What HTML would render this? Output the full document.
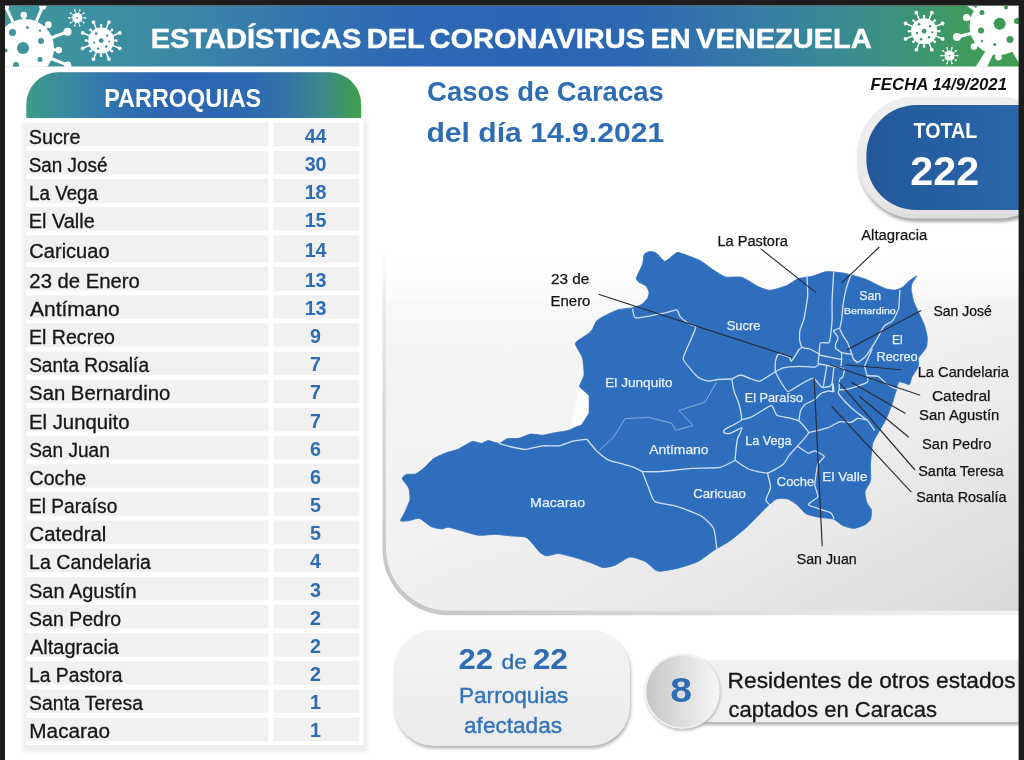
<!DOCTYPE html>
<html lang="es"><head><meta charset="utf-8"><title>Estadísticas del Coronavirus en Venezuela</title>
<style>html,body{margin:0;padding:0;background:#fff;overflow:hidden}svg{display:block}text{font-family:"Liberation Sans",sans-serif}</style></head><body>
<svg width="1024" height="760" viewBox="0 0 1024 760">
<defs>
<linearGradient id="gb" x1="0" x2="1" y1="0" y2="0">
<stop offset="0" stop-color="#3f969a"/><stop offset="0.094" stop-color="#3d90a0"/><stop offset="0.2" stop-color="#3a84a8"/><stop offset="0.29" stop-color="#3274b0"/><stop offset="0.41" stop-color="#2c68b3"/><stop offset="0.52" stop-color="#2b65b3"/><stop offset="0.62" stop-color="#2d69b1"/><stop offset="0.706" stop-color="#3376aa"/><stop offset="0.79" stop-color="#38859c"/><stop offset="0.876" stop-color="#3c9180"/><stop offset="0.94" stop-color="#3f9a60"/><stop offset="1" stop-color="#409d50"/></linearGradient>
<linearGradient id="gh" x1="0" x2="1" y1="0" y2="0">
<stop offset="0" stop-color="#3e9b88"/><stop offset="0.12" stop-color="#3a8aa0"/><stop offset="0.27" stop-color="#3072b0"/><stop offset="0.42" stop-color="#2c66b3"/><stop offset="0.66" stop-color="#2d68b2"/><stop offset="0.78" stop-color="#3274a6"/><stop offset="0.89" stop-color="#3b8a86"/><stop offset="1" stop-color="#409f49"/></linearGradient>
<linearGradient id="gt" x1="0" x2="1" y1="0" y2="0"><stop offset="0" stop-color="#22589a"/><stop offset="1" stop-color="#2e6bad"/></linearGradient>
<linearGradient id="gcard" x1="0" x2="0" y1="0" y2="1"><stop offset="0" stop-color="#ffffff"/><stop offset="0.17" stop-color="#ffffff"/><stop offset="0.27" stop-color="#f8f8f8"/><stop offset="0.37" stop-color="#f5f5f5"/><stop offset="1" stop-color="#f0f0f0"/></linearGradient>
<linearGradient id="gcardo" x1="0" x2="1" y1="0" y2="1"><stop offset="0" stop-color="#000" stop-opacity="0"/><stop offset="0.45" stop-color="#000" stop-opacity="0"/><stop offset="0.75" stop-color="#000" stop-opacity="0.04"/><stop offset="1" stop-color="#000" stop-opacity="0.1"/></linearGradient>
<linearGradient id="gcardb" x1="1" x2="0" y1="0" y2="1"><stop offset="0" stop-color="#ffffff"/><stop offset="0.45" stop-color="#f6f6f6"/><stop offset="0.6" stop-color="#ececec"/><stop offset="0.8" stop-color="#d6d6d6"/><stop offset="1" stop-color="#c2c2c2"/></linearGradient>
<linearGradient id="gfade" x1="0" x2="0" y1="0" y2="1"><stop offset="0" stop-color="#fff" stop-opacity="1"/><stop offset="0.55" stop-color="#fff" stop-opacity="1"/><stop offset="1" stop-color="#fff" stop-opacity="0"/></linearGradient>
<linearGradient id="gbez" x1="0" x2="0" y1="0" y2="1"><stop offset="0" stop-color="#efefef"/><stop offset="0.85" stop-color="#e9e9e9"/><stop offset="1" stop-color="#dcdcdc"/></linearGradient>
<linearGradient id="gcirc" x1="0" x2="1" y1="0" y2="0"><stop offset="0" stop-color="#c6c6c6"/><stop offset="1" stop-color="#f6f6f6"/></linearGradient>
<linearGradient id="gpill" x1="0" x2="0" y1="0" y2="1"><stop offset="0" stop-color="#f4f4f4"/><stop offset="1" stop-color="#ebebeb"/></linearGradient>
<filter id="sh2" x="-5%" y="-5%" width="110%" height="110%"><feGaussianBlur stdDeviation="2"/></filter>
<filter id="sh" x="-10%" y="-10%" width="120%" height="130%"><feGaussianBlur stdDeviation="1.5"/></filter>
<clipPath id="cb"><rect x="5" y="5.5" width="1014" height="61.3"/></clipPath>
<clipPath id="cpage"><rect x="5" y="5.5" width="1014" height="755"/></clipPath>
</defs>
<rect width="1024" height="760" fill="#fff"/>
<rect x="5" y="5.5" width="1014" height="61" fill="url(#gb)"/>
<g clip-path="url(#cpage)">
<g clip-path="url(#cb)">
<circle cx="25" cy="48" r="29" fill="#fff"/>
<line x1="13.2" y1="22.6" x2="5.6" y2="6.3" stroke="#fff" stroke-width="3"/>
<circle cx="5.6" cy="6.3" r="3.5" fill="#fff"/>
<line x1="35.9" y1="22.2" x2="42.7" y2="6.3" stroke="#fff" stroke-width="3"/>
<circle cx="42.7" cy="6.3" r="3.6" fill="#fff"/>
<line x1="24.0" y1="20.0" x2="23.8" y2="15.0" stroke="#fff" stroke-width="3"/>
<circle cx="23.8" cy="15.0" r="3.3" fill="#fff"/>
<line x1="44.8" y1="28.2" x2="48.3" y2="24.7" stroke="#fff" stroke-width="3"/>
<circle cx="48.3" cy="24.7" r="3.4" fill="#fff"/>
<line x1="51.1" y1="38.0" x2="67.5" y2="31.7" stroke="#fff" stroke-width="3"/>
<circle cx="67.5" cy="31.7" r="4" fill="#fff"/>
<line x1="52.9" y1="49.7" x2="58.7" y2="50.1" stroke="#fff" stroke-width="3"/>
<circle cx="58.7" cy="50.1" r="3.3" fill="#fff"/>
<line x1="51.0" y1="58.5" x2="67.7" y2="65.2" stroke="#fff" stroke-width="3"/>
<circle cx="67.7" cy="65.2" r="3.6" fill="#fff"/>
<circle cx="12.5" cy="32.5" r="3.5" fill="#3f959b"/>
<circle cx="23" cy="48" r="6" fill="#3f959b"/>
<circle cx="41" cy="41" r="3" fill="#3f959b"/>
<circle cx="40" cy="59.4" r="2.5" fill="#3f959b"/>
<circle cx="27.5" cy="27.5" r="1.5" fill="#3f959b"/>
<circle cx="40" cy="30.6" r="1.2" fill="#3f959b"/>
<circle cx="16" cy="65" r="3" fill="#3f959b"/>
<circle cx="5.6" cy="50.6" r="2" fill="#3f959b"/>
</g>
<circle cx="101.2" cy="40.6" r="13" fill="#fff"/>
<line x1="113.2" y1="40.6" x2="116.4" y2="40.6" stroke="#fff" stroke-width="1.5"/>
<circle cx="116.4" cy="40.6" r="1.3" fill="#fff"/>
<line x1="112.3" y1="45.2" x2="119.7" y2="48.3" stroke="#fff" stroke-width="1.5"/>
<circle cx="119.7" cy="48.3" r="1.9" fill="#fff"/>
<line x1="109.7" y1="49.1" x2="111.9" y2="51.3" stroke="#fff" stroke-width="1.5"/>
<circle cx="111.9" cy="51.3" r="1.3" fill="#fff"/>
<line x1="105.8" y1="51.7" x2="108.9" y2="59.1" stroke="#fff" stroke-width="1.5"/>
<circle cx="108.9" cy="59.1" r="1.9" fill="#fff"/>
<line x1="101.2" y1="52.6" x2="101.2" y2="55.8" stroke="#fff" stroke-width="1.5"/>
<circle cx="101.2" cy="55.8" r="1.3" fill="#fff"/>
<line x1="96.6" y1="51.7" x2="93.5" y2="59.1" stroke="#fff" stroke-width="1.5"/>
<circle cx="93.5" cy="59.1" r="1.9" fill="#fff"/>
<line x1="92.7" y1="49.1" x2="90.5" y2="51.3" stroke="#fff" stroke-width="1.5"/>
<circle cx="90.5" cy="51.3" r="1.3" fill="#fff"/>
<line x1="90.1" y1="45.2" x2="82.7" y2="48.3" stroke="#fff" stroke-width="1.5"/>
<circle cx="82.7" cy="48.3" r="1.9" fill="#fff"/>
<line x1="89.2" y1="40.6" x2="86.0" y2="40.6" stroke="#fff" stroke-width="1.5"/>
<circle cx="86.0" cy="40.6" r="1.3" fill="#fff"/>
<line x1="90.1" y1="36.0" x2="82.7" y2="32.9" stroke="#fff" stroke-width="1.5"/>
<circle cx="82.7" cy="32.9" r="1.9" fill="#fff"/>
<line x1="92.7" y1="32.1" x2="90.5" y2="29.9" stroke="#fff" stroke-width="1.5"/>
<circle cx="90.5" cy="29.9" r="1.3" fill="#fff"/>
<line x1="96.6" y1="29.5" x2="93.5" y2="22.1" stroke="#fff" stroke-width="1.5"/>
<circle cx="93.5" cy="22.1" r="1.9" fill="#fff"/>
<line x1="101.2" y1="28.6" x2="101.2" y2="25.4" stroke="#fff" stroke-width="1.5"/>
<circle cx="101.2" cy="25.4" r="1.3" fill="#fff"/>
<line x1="105.8" y1="29.5" x2="108.9" y2="22.1" stroke="#fff" stroke-width="1.5"/>
<circle cx="108.9" cy="22.1" r="1.9" fill="#fff"/>
<line x1="109.7" y1="32.1" x2="111.9" y2="29.9" stroke="#fff" stroke-width="1.5"/>
<circle cx="111.9" cy="29.9" r="1.3" fill="#fff"/>
<line x1="112.3" y1="36.0" x2="119.7" y2="32.9" stroke="#fff" stroke-width="1.5"/>
<circle cx="119.7" cy="32.9" r="1.9" fill="#fff"/>
<circle cx="101.2" cy="40.6" r="2.4" fill="#3d8fa0"/>
<circle cx="96.2" cy="33.6" r="1.3" fill="#3d8fa0"/>
<circle cx="107.2" cy="35.6" r="1.2" fill="#3d8fa0"/>
<circle cx="94.2" cy="42.6" r="1.1" fill="#3d8fa0"/>
<circle cx="106.2" cy="46.6" r="1.3" fill="#3d8fa0"/>
<circle cx="98.2" cy="48.6" r="1.2" fill="#3d8fa0"/>
<circle cx="109.2" cy="41.6" r="1" fill="#3d8fa0"/>
<circle cx="77.2" cy="17.9" r="5" fill="#fff"/>
<line x1="81.2" y1="17.9" x2="85.4" y2="17.9" stroke="#fff" stroke-width="0.8"/>
<circle cx="85.4" cy="17.9" r="0.9" fill="#fff"/>
<line x1="80.4" y1="20.3" x2="83.8" y2="22.7" stroke="#fff" stroke-width="0.8"/>
<circle cx="83.8" cy="22.7" r="0.9" fill="#fff"/>
<line x1="78.4" y1="21.7" x2="79.7" y2="25.7" stroke="#fff" stroke-width="0.8"/>
<circle cx="79.7" cy="25.7" r="0.9" fill="#fff"/>
<line x1="76.0" y1="21.7" x2="74.7" y2="25.7" stroke="#fff" stroke-width="0.8"/>
<circle cx="74.7" cy="25.7" r="0.9" fill="#fff"/>
<line x1="74.0" y1="20.3" x2="70.6" y2="22.7" stroke="#fff" stroke-width="0.8"/>
<circle cx="70.6" cy="22.7" r="0.9" fill="#fff"/>
<line x1="73.2" y1="17.9" x2="69.0" y2="17.9" stroke="#fff" stroke-width="0.8"/>
<circle cx="69.0" cy="17.9" r="0.9" fill="#fff"/>
<line x1="74.0" y1="15.5" x2="70.6" y2="13.1" stroke="#fff" stroke-width="0.8"/>
<circle cx="70.6" cy="13.1" r="0.9" fill="#fff"/>
<line x1="76.0" y1="14.1" x2="74.7" y2="10.1" stroke="#fff" stroke-width="0.8"/>
<circle cx="74.7" cy="10.1" r="0.9" fill="#fff"/>
<line x1="78.4" y1="14.1" x2="79.7" y2="10.1" stroke="#fff" stroke-width="0.8"/>
<circle cx="79.7" cy="10.1" r="0.9" fill="#fff"/>
<line x1="80.4" y1="15.5" x2="83.8" y2="13.1" stroke="#fff" stroke-width="0.8"/>
<circle cx="83.8" cy="13.1" r="0.9" fill="#fff"/>
<circle cx="77.2" cy="17.9" r="0.9" fill="#3e929d"/>
<circle cx="924.1" cy="31.2" r="13" fill="#fff"/>
<line x1="936.1" y1="31.2" x2="939.3" y2="31.2" stroke="#fff" stroke-width="1.5"/>
<circle cx="939.3" cy="31.2" r="1.3" fill="#fff"/>
<line x1="935.2" y1="35.8" x2="942.6" y2="38.9" stroke="#fff" stroke-width="1.5"/>
<circle cx="942.6" cy="38.9" r="1.9" fill="#fff"/>
<line x1="932.6" y1="39.7" x2="934.8" y2="41.9" stroke="#fff" stroke-width="1.5"/>
<circle cx="934.8" cy="41.9" r="1.3" fill="#fff"/>
<line x1="928.7" y1="42.3" x2="931.8" y2="49.7" stroke="#fff" stroke-width="1.5"/>
<circle cx="931.8" cy="49.7" r="1.9" fill="#fff"/>
<line x1="924.1" y1="43.2" x2="924.1" y2="46.4" stroke="#fff" stroke-width="1.5"/>
<circle cx="924.1" cy="46.4" r="1.3" fill="#fff"/>
<line x1="919.5" y1="42.3" x2="916.4" y2="49.7" stroke="#fff" stroke-width="1.5"/>
<circle cx="916.4" cy="49.7" r="1.9" fill="#fff"/>
<line x1="915.6" y1="39.7" x2="913.4" y2="41.9" stroke="#fff" stroke-width="1.5"/>
<circle cx="913.4" cy="41.9" r="1.3" fill="#fff"/>
<line x1="913.0" y1="35.8" x2="905.6" y2="38.9" stroke="#fff" stroke-width="1.5"/>
<circle cx="905.6" cy="38.9" r="1.9" fill="#fff"/>
<line x1="912.1" y1="31.2" x2="908.9" y2="31.2" stroke="#fff" stroke-width="1.5"/>
<circle cx="908.9" cy="31.2" r="1.3" fill="#fff"/>
<line x1="913.0" y1="26.6" x2="905.6" y2="23.5" stroke="#fff" stroke-width="1.5"/>
<circle cx="905.6" cy="23.5" r="1.9" fill="#fff"/>
<line x1="915.6" y1="22.7" x2="913.4" y2="20.5" stroke="#fff" stroke-width="1.5"/>
<circle cx="913.4" cy="20.5" r="1.3" fill="#fff"/>
<line x1="919.5" y1="20.1" x2="916.4" y2="12.7" stroke="#fff" stroke-width="1.5"/>
<circle cx="916.4" cy="12.7" r="1.9" fill="#fff"/>
<line x1="924.1" y1="19.2" x2="924.1" y2="16.0" stroke="#fff" stroke-width="1.5"/>
<circle cx="924.1" cy="16.0" r="1.3" fill="#fff"/>
<line x1="928.7" y1="20.1" x2="931.8" y2="12.7" stroke="#fff" stroke-width="1.5"/>
<circle cx="931.8" cy="12.7" r="1.9" fill="#fff"/>
<line x1="932.6" y1="22.7" x2="934.8" y2="20.5" stroke="#fff" stroke-width="1.5"/>
<circle cx="934.8" cy="20.5" r="1.3" fill="#fff"/>
<line x1="935.2" y1="26.6" x2="942.6" y2="23.5" stroke="#fff" stroke-width="1.5"/>
<circle cx="942.6" cy="23.5" r="1.9" fill="#fff"/>
<circle cx="924.1" cy="31.2" r="2.4" fill="#3d9475"/>
<circle cx="919.1" cy="24.2" r="1.3" fill="#3d9475"/>
<circle cx="930.1" cy="26.2" r="1.2" fill="#3d9475"/>
<circle cx="917.1" cy="33.2" r="1.1" fill="#3d9475"/>
<circle cx="929.1" cy="37.2" r="1.3" fill="#3d9475"/>
<circle cx="921.1" cy="39.2" r="1.2" fill="#3d9475"/>
<circle cx="932.1" cy="32.2" r="1" fill="#3d9475"/>
<circle cx="949.5" cy="55.6" r="5" fill="#fff"/>
<line x1="953.5" y1="55.6" x2="957.7" y2="55.6" stroke="#fff" stroke-width="0.8"/>
<circle cx="957.7" cy="55.6" r="0.9" fill="#fff"/>
<line x1="952.7" y1="58.0" x2="956.1" y2="60.4" stroke="#fff" stroke-width="0.8"/>
<circle cx="956.1" cy="60.4" r="0.9" fill="#fff"/>
<line x1="950.7" y1="59.4" x2="952.0" y2="63.4" stroke="#fff" stroke-width="0.8"/>
<circle cx="952.0" cy="63.4" r="0.9" fill="#fff"/>
<line x1="948.3" y1="59.4" x2="947.0" y2="63.4" stroke="#fff" stroke-width="0.8"/>
<circle cx="947.0" cy="63.4" r="0.9" fill="#fff"/>
<line x1="946.3" y1="58.0" x2="942.9" y2="60.4" stroke="#fff" stroke-width="0.8"/>
<circle cx="942.9" cy="60.4" r="0.9" fill="#fff"/>
<line x1="945.5" y1="55.6" x2="941.3" y2="55.6" stroke="#fff" stroke-width="0.8"/>
<circle cx="941.3" cy="55.6" r="0.9" fill="#fff"/>
<line x1="946.3" y1="53.2" x2="942.9" y2="50.8" stroke="#fff" stroke-width="0.8"/>
<circle cx="942.9" cy="50.8" r="0.9" fill="#fff"/>
<line x1="948.3" y1="51.8" x2="947.0" y2="47.8" stroke="#fff" stroke-width="0.8"/>
<circle cx="947.0" cy="47.8" r="0.9" fill="#fff"/>
<line x1="950.7" y1="51.8" x2="952.0" y2="47.8" stroke="#fff" stroke-width="0.8"/>
<circle cx="952.0" cy="47.8" r="0.9" fill="#fff"/>
<line x1="952.7" y1="53.2" x2="956.1" y2="50.8" stroke="#fff" stroke-width="0.8"/>
<circle cx="956.1" cy="50.8" r="0.9" fill="#fff"/>
<circle cx="949.5" cy="55.6" r="0.9" fill="#3d9670"/>
<g clip-path="url(#cb)">
<path d="M987.5,48 L994,52.5 L987,67 L975.5,67 Z" fill="#fff"/><path d="M1010,48 L1019,45 L1019,63 Z" fill="#fff"/>
<circle cx="998.5" cy="26" r="29" fill="#fff"/>
<line x1="971.5" y1="18.8" x2="966.6" y2="17.5" stroke="#fff" stroke-width="3.2"/>
<circle cx="966.6" cy="17.5" r="3.6" fill="#fff"/>
<line x1="971.5" y1="33.2" x2="957.0" y2="37.1" stroke="#fff" stroke-width="3.2"/>
<circle cx="957.0" cy="37.1" r="4" fill="#fff"/>
<line x1="977.1" y1="44.0" x2="974.0" y2="46.6" stroke="#fff" stroke-width="3.2"/>
<circle cx="974.0" cy="46.6" r="3.3" fill="#fff"/>
<line x1="998.5" y1="54.0" x2="998.5" y2="57.0" stroke="#fff" stroke-width="3.2"/>
<circle cx="998.5" cy="57.0" r="3.4" fill="#fff"/>
<line x1="975.6" y1="9.9" x2="961.6" y2="0.2" stroke="#fff" stroke-width="3.2"/>
<circle cx="961.6" cy="0.2" r="3.6" fill="#fff"/>
<circle cx="999.7" cy="23.7" r="6" fill="#3f9a56"/>
<circle cx="982" cy="12.5" r="2.5" fill="#3f9a56"/>
<circle cx="981" cy="30.6" r="3" fill="#3f9a56"/>
<circle cx="1010" cy="39.4" r="3.5" fill="#3f9a56"/>
<circle cx="994.7" cy="44.4" r="1.5" fill="#3f9a56"/>
<circle cx="982" cy="41" r="1.2" fill="#3f9a56"/>
<circle cx="1017" cy="21" r="3" fill="#3f9a56"/>
<circle cx="1006" cy="7.5" r="2" fill="#3f9a56"/>
</g>
</g>
<text x="150.76" y="47.60" font-size="27.3" textLength="721.00" lengthAdjust="spacingAndGlyphs" fill="#fff" font-weight="bold" stroke="#fff" stroke-width="0.45" word-spacing="-2.5">ESTADÍSTICAS DEL CORONAVIRUS EN VENEZUELA</text>
<rect x="23" y="122" width="345" height="630" fill="#ededed" filter="url(#sh2)"/>
<rect x="26" y="118" width="337.4" height="627" fill="#fff"/>
<path d="M26.3,118.1 V104.3 A32,32 0 0 1 58.3,72.3 H329.2 A32,32 0 0 1 361.2,104.3 V118.1 Z" fill="url(#gh)"/>
<text x="104.23" y="106.70" font-size="25" textLength="156.98" lengthAdjust="spacingAndGlyphs" fill="#fff" font-weight="bold">PARROQUIAS</text>
<rect x="26" y="122.8" width="242.4" height="23.5" fill="#f1f1f1"/>
<rect x="273.4" y="122.8" width="85.8" height="23.5" fill="#f1f1f1"/>
<text x="28.70" y="143.50" font-size="20" textLength="51.78" lengthAdjust="spacingAndGlyphs" fill="#161616" stroke="#161616" stroke-width="0.3">Sucre</text>
<text x="315.6" y="142.5" font-size="19.7" font-weight="bold" text-anchor="middle" fill="#2e6db4">44</text>
<rect x="26" y="150.9" width="242.4" height="23.5" fill="#f1f1f1"/>
<rect x="273.4" y="150.9" width="85.8" height="23.5" fill="#f1f1f1"/>
<text x="28.74" y="171.65" font-size="20" textLength="78.70" lengthAdjust="spacingAndGlyphs" fill="#161616" stroke="#161616" stroke-width="0.3">San José</text>
<text x="315.6" y="170.6" font-size="19.7" font-weight="bold" text-anchor="middle" fill="#2e6db4">30</text>
<rect x="26" y="179.1" width="242.4" height="23.5" fill="#f1f1f1"/>
<rect x="273.4" y="179.1" width="85.8" height="23.5" fill="#f1f1f1"/>
<text x="29.06" y="199.80" font-size="20" textLength="68.94" lengthAdjust="spacingAndGlyphs" fill="#161616" stroke="#161616" stroke-width="0.3">La Vega</text>
<text x="315.6" y="198.8" font-size="19.7" font-weight="bold" text-anchor="middle" fill="#2e6db4">18</text>
<rect x="26" y="207.2" width="242.4" height="23.5" fill="#f1f1f1"/>
<rect x="273.4" y="207.2" width="85.8" height="23.5" fill="#f1f1f1"/>
<text x="28.77" y="227.95" font-size="20" textLength="66.02" lengthAdjust="spacingAndGlyphs" fill="#161616" stroke="#161616" stroke-width="0.3">El Valle</text>
<text x="315.6" y="226.9" font-size="19.7" font-weight="bold" text-anchor="middle" fill="#2e6db4">15</text>
<rect x="26" y="235.4" width="242.4" height="27" fill="#f1f1f1"/>
<rect x="273.4" y="235.4" width="85.8" height="27" fill="#f1f1f1"/>
<text x="29.38" y="257.80" font-size="20" textLength="80.16" lengthAdjust="spacingAndGlyphs" fill="#161616" stroke="#161616" stroke-width="0.3">Caricuao</text>
<text x="315.6" y="256.8" font-size="19.7" font-weight="bold" text-anchor="middle" fill="#2e6db4">14</text>
<rect x="26" y="267.1" width="242.4" height="23.4" fill="#f1f1f1"/>
<rect x="273.4" y="267.1" width="85.8" height="23.4" fill="#f1f1f1"/>
<text x="29.38" y="287.80" font-size="20" textLength="110.47" lengthAdjust="spacingAndGlyphs" fill="#161616" stroke="#161616" stroke-width="0.3">23 de Enero</text>
<text x="315.6" y="286.8" font-size="19.7" font-weight="bold" text-anchor="middle" fill="#2e6db4">13</text>
<rect x="26" y="295.3" width="242.4" height="23.4" fill="#f1f1f1"/>
<rect x="273.4" y="295.3" width="85.8" height="23.4" fill="#f1f1f1"/>
<text x="30.06" y="315.96" font-size="20" textLength="89.72" lengthAdjust="spacingAndGlyphs" fill="#161616" stroke="#161616" stroke-width="0.3">Antímano</text>
<text x="315.6" y="315.0" font-size="19.7" font-weight="bold" text-anchor="middle" fill="#2e6db4">13</text>
<rect x="26" y="323.4" width="242.4" height="23.4" fill="#f1f1f1"/>
<rect x="273.4" y="323.4" width="85.8" height="23.4" fill="#f1f1f1"/>
<text x="28.99" y="344.12" font-size="20" textLength="85.93" lengthAdjust="spacingAndGlyphs" fill="#161616" stroke="#161616" stroke-width="0.3">El Recreo</text>
<text x="315.6" y="343.1" font-size="19.7" font-weight="bold" text-anchor="middle" fill="#2e6db4">9</text>
<rect x="26" y="351.6" width="242.4" height="23.4" fill="#f1f1f1"/>
<rect x="273.4" y="351.6" width="85.8" height="23.4" fill="#f1f1f1"/>
<text x="29.13" y="372.28" font-size="20" textLength="119.87" lengthAdjust="spacingAndGlyphs" fill="#161616" stroke="#161616" stroke-width="0.3">Santa Rosalía</text>
<text x="315.6" y="371.3" font-size="19.7" font-weight="bold" text-anchor="middle" fill="#2e6db4">7</text>
<rect x="26" y="379.7" width="242.4" height="23.4" fill="#f1f1f1"/>
<rect x="273.4" y="379.7" width="85.8" height="23.4" fill="#f1f1f1"/>
<text x="29.08" y="400.44" font-size="20" textLength="141.18" lengthAdjust="spacingAndGlyphs" fill="#161616" stroke="#161616" stroke-width="0.3">San Bernardino</text>
<text x="315.6" y="399.4" font-size="19.7" font-weight="bold" text-anchor="middle" fill="#2e6db4">7</text>
<rect x="26" y="407.9" width="242.4" height="23.4" fill="#f1f1f1"/>
<rect x="273.4" y="407.9" width="85.8" height="23.4" fill="#f1f1f1"/>
<text x="28.93" y="428.60" font-size="20" textLength="100.62" lengthAdjust="spacingAndGlyphs" fill="#161616" stroke="#161616" stroke-width="0.3">El Junquito</text>
<text x="315.6" y="427.6" font-size="19.7" font-weight="bold" text-anchor="middle" fill="#2e6db4">7</text>
<rect x="26" y="436.1" width="242.4" height="23.4" fill="#f1f1f1"/>
<rect x="273.4" y="436.1" width="85.8" height="23.4" fill="#f1f1f1"/>
<text x="29.13" y="456.76" font-size="20" textLength="80.71" lengthAdjust="spacingAndGlyphs" fill="#161616" stroke="#161616" stroke-width="0.3">San Juan</text>
<text x="315.6" y="455.8" font-size="19.7" font-weight="bold" text-anchor="middle" fill="#2e6db4">6</text>
<rect x="26" y="464.2" width="242.4" height="23.4" fill="#f1f1f1"/>
<rect x="273.4" y="464.2" width="85.8" height="23.4" fill="#f1f1f1"/>
<text x="29.61" y="484.92" font-size="20" textLength="56.56" lengthAdjust="spacingAndGlyphs" fill="#161616" stroke="#161616" stroke-width="0.3">Coche</text>
<text x="315.6" y="483.9" font-size="19.7" font-weight="bold" text-anchor="middle" fill="#2e6db4">6</text>
<rect x="26" y="492.4" width="242.4" height="23.4" fill="#f1f1f1"/>
<rect x="273.4" y="492.4" width="85.8" height="23.4" fill="#f1f1f1"/>
<text x="29.03" y="513.08" font-size="20" textLength="88.27" lengthAdjust="spacingAndGlyphs" fill="#161616" stroke="#161616" stroke-width="0.3">El Paraíso</text>
<text x="315.6" y="512.1" font-size="19.7" font-weight="bold" text-anchor="middle" fill="#2e6db4">5</text>
<rect x="26" y="520.5" width="242.4" height="23.4" fill="#f1f1f1"/>
<rect x="273.4" y="520.5" width="85.8" height="23.4" fill="#f1f1f1"/>
<text x="29.57" y="541.24" font-size="20" textLength="76.79" lengthAdjust="spacingAndGlyphs" fill="#161616" stroke="#161616" stroke-width="0.3">Catedral</text>
<text x="315.6" y="540.2" font-size="19.7" font-weight="bold" text-anchor="middle" fill="#2e6db4">5</text>
<rect x="26" y="548.7" width="242.4" height="23.4" fill="#f1f1f1"/>
<rect x="273.4" y="548.7" width="85.8" height="23.4" fill="#f1f1f1"/>
<text x="28.99" y="569.40" font-size="20" textLength="122.01" lengthAdjust="spacingAndGlyphs" fill="#161616" stroke="#161616" stroke-width="0.3">La Candelaria</text>
<text x="315.6" y="568.4" font-size="19.7" font-weight="bold" text-anchor="middle" fill="#2e6db4">4</text>
<rect x="26" y="576.9" width="242.4" height="23.4" fill="#f1f1f1"/>
<rect x="273.4" y="576.9" width="85.8" height="23.4" fill="#f1f1f1"/>
<text x="29.10" y="597.56" font-size="20" textLength="107.40" lengthAdjust="spacingAndGlyphs" fill="#161616" stroke="#161616" stroke-width="0.3">San Agustín</text>
<text x="315.6" y="596.6" font-size="19.7" font-weight="bold" text-anchor="middle" fill="#2e6db4">3</text>
<rect x="26" y="605.0" width="242.4" height="23.4" fill="#f1f1f1"/>
<rect x="273.4" y="605.0" width="85.8" height="23.4" fill="#f1f1f1"/>
<text x="29.11" y="625.72" font-size="20" textLength="92.10" lengthAdjust="spacingAndGlyphs" fill="#161616" stroke="#161616" stroke-width="0.3">San Pedro</text>
<text x="315.6" y="624.7" font-size="19.7" font-weight="bold" text-anchor="middle" fill="#2e6db4">2</text>
<rect x="26" y="633.2" width="242.4" height="23.4" fill="#f1f1f1"/>
<rect x="273.4" y="633.2" width="85.8" height="23.4" fill="#f1f1f1"/>
<text x="29.96" y="653.88" font-size="20" textLength="89.04" lengthAdjust="spacingAndGlyphs" fill="#161616" stroke="#161616" stroke-width="0.3">Altagracia</text>
<text x="315.6" y="652.9" font-size="19.7" font-weight="bold" text-anchor="middle" fill="#2e6db4">2</text>
<rect x="26" y="661.3" width="242.4" height="23.4" fill="#f1f1f1"/>
<rect x="273.4" y="661.3" width="85.8" height="23.4" fill="#f1f1f1"/>
<text x="29.02" y="682.04" font-size="20" textLength="93.38" lengthAdjust="spacingAndGlyphs" fill="#161616" stroke="#161616" stroke-width="0.3">La Pastora</text>
<text x="315.6" y="681.0" font-size="19.7" font-weight="bold" text-anchor="middle" fill="#2e6db4">2</text>
<rect x="26" y="689.5" width="242.4" height="23.4" fill="#f1f1f1"/>
<rect x="273.4" y="689.5" width="85.8" height="23.4" fill="#f1f1f1"/>
<text x="29.12" y="710.20" font-size="20" textLength="113.98" lengthAdjust="spacingAndGlyphs" fill="#161616" stroke="#161616" stroke-width="0.3">Santa Teresa</text>
<text x="315.6" y="709.2" font-size="19.7" font-weight="bold" text-anchor="middle" fill="#2e6db4">1</text>
<rect x="26" y="717.7" width="242.4" height="23.4" fill="#f1f1f1"/>
<rect x="273.4" y="717.7" width="85.8" height="23.4" fill="#f1f1f1"/>
<text x="29.30" y="738.36" font-size="20" textLength="80.77" lengthAdjust="spacingAndGlyphs" fill="#161616" stroke="#161616" stroke-width="0.3">Macarao</text>
<text x="315.6" y="737.4" font-size="19.7" font-weight="bold" text-anchor="middle" fill="#2e6db4">1</text>
<text x="427.07" y="100.50" font-size="26.8" textLength="236.65" lengthAdjust="spacingAndGlyphs" fill="#2e6db4" font-weight="bold">Casos de Caracas</text>
<text x="426.47" y="141.60" font-size="26.8" textLength="237.67" lengthAdjust="spacingAndGlyphs" fill="#2e6db4" font-weight="bold">del día 14.9.2021</text>
<text x="870.61" y="89.80" font-size="16.6" textLength="136.40" lengthAdjust="spacingAndGlyphs" fill="#111" font-weight="bold" font-style="italic">FECHA 14/9/2021</text>
<g clip-path="url(#cpage)">
<path d="M382.4,190 V549.3 A66,66 0 0 0 448.4,615.3 H1030 V190 Z" fill="url(#gcardb)"/>
<path d="M385.9,190 V547.8 A63,63 0 0 0 448.9,610.8 H1030 V190 Z" fill="url(#gcard)"/>
<path d="M385.9,190 V547.8 A63,63 0 0 0 448.9,610.8 H1030 V190 Z" fill="url(#gcardo)"/>
<rect x="375" y="185" width="660" height="120" fill="url(#gfade)"/>
</g>
<g clip-path="url(#cpage)">
<rect x="858.5" y="99.5" width="200" height="122.5" rx="58.5" fill="#a8a8a8" filter="url(#sh)"/>
<rect x="857.3" y="96.4" width="200" height="122.2" rx="58.5" fill="url(#gbez)"/>
<rect x="866.4" y="105" width="200" height="105.1" rx="50" fill="url(#gt)"/>
</g>
<text x="913.48" y="137.50" font-size="22" textLength="63.73" lengthAdjust="spacingAndGlyphs" fill="#fff" font-weight="bold">TOTAL</text>
<text x="910.37" y="184.90" font-size="40.7" textLength="68.88" lengthAdjust="spacingAndGlyphs" fill="#fff" font-weight="bold">222</text>
<path d="M402.2,478.6 C402.0,477.2 405.0,474.9 406.4,474.4 C407.8,473.9 413.9,474.6 415.8,473.9 C417.7,473.1 423.4,468.4 425.2,466.9 C427.0,465.4 431.3,460.1 433.4,458.7 C435.5,457.3 443.7,453.7 446.2,452.8 C448.7,451.9 455.4,450.4 458.0,449.3 C460.6,448.2 469.7,442.2 472.0,441.6 C474.3,441.0 479.8,443.5 481.4,443.4 C483.0,443.3 486.6,440.6 488.4,440.6 C490.2,440.6 497.1,443.6 499.0,443.4 C500.9,443.2 505.2,439.2 507.2,438.7 C509.2,438.2 516.6,438.8 518.9,438.3 C521.2,437.8 528.3,434.4 530.6,434.1 C532.9,433.8 540.0,435.3 542.3,435.2 C544.6,435.1 551.4,433.4 554.0,432.9 C556.6,432.4 565.8,431.2 568.1,430.5 C570.5,429.8 576.2,426.5 577.5,425.9 C578.8,425.3 580.0,425.8 581.1,424.5 C582.2,423.2 587.6,415.8 588.3,412.9 C589.0,410.0 589.2,398.1 588.3,395.5 C587.4,392.9 580.0,388.9 579.6,386.9 C579.2,384.9 583.7,378.2 584.0,375.3 C584.3,372.4 583.4,361.1 582.5,357.9 C581.6,354.7 574.9,345.7 575.3,343.4 C575.7,341.1 585.2,336.0 586.9,334.7 C588.6,333.4 591.1,331.4 592.1,330.0 C593.1,328.6 595.3,322.2 596.9,320.6 C598.5,319.0 605.7,315.3 607.9,314.2 C610.1,313.1 616.6,310.1 619.0,309.5 C621.4,308.9 629.4,308.4 631.6,307.9 C633.8,307.4 639.5,305.7 641.1,304.8 C642.7,303.9 646.6,299.8 647.4,298.5 C648.2,297.2 649.2,293.4 649.0,292.1 C648.8,290.8 646.8,286.8 645.8,285.8 C644.8,284.8 639.6,282.7 638.7,281.9 C637.8,281.1 636.0,279.7 636.4,277.9 C636.8,276.1 641.9,266.1 642.7,263.7 C643.5,261.3 643.5,255.4 644.3,254.2 C645.1,253.0 649.3,251.5 650.6,251.4 C651.9,251.3 655.5,252.4 656.9,253.4 C658.3,254.4 663.1,261.2 664.8,261.3 C666.5,261.4 672.9,255.1 674.3,254.2 C675.7,253.3 676.4,252.0 679.0,252.6 C681.6,253.2 696.5,258.7 700.0,260.5 C703.5,262.3 711.4,268.8 714.0,270.4 C716.6,272.0 723.0,276.3 725.8,277.0 C728.6,277.7 738.9,276.4 742.2,277.4 C745.5,278.4 755.8,285.5 758.6,286.8 C761.4,288.1 767.5,290.4 770.3,290.3 C773.1,290.2 783.9,286.8 786.7,285.6 C789.5,284.4 795.8,279.5 798.4,278.6 C801.0,277.7 809.7,276.9 812.5,276.2 C815.3,275.5 823.3,271.9 826.6,271.6 C829.9,271.3 841.6,272.7 845.3,273.4 C849.0,274.1 860.8,277.5 864.0,278.6 C867.2,279.7 874.7,283.7 876.9,284.7 C879.1,285.7 884.5,288.4 886.4,288.9 C888.3,289.4 894.1,290.2 895.8,290.0 C897.5,289.8 901.7,287.9 903.0,287.0 C904.3,286.1 907.5,282.3 908.9,281.2 C910.3,280.1 916.5,275.6 916.8,275.8 C917.1,276.0 912.7,281.9 912.1,283.3 C911.5,284.7 911.1,287.7 911.2,289.5 C911.4,291.3 912.8,298.8 913.6,301.3 C914.4,303.8 918.4,312.0 919.5,314.4 C920.6,316.8 923.5,322.8 924.3,325.0 C925.1,327.2 927.0,334.8 927.2,336.9 C927.4,339.0 927.1,344.7 926.6,346.4 C926.1,348.1 922.7,352.3 921.9,353.5 C921.1,354.7 918.7,356.9 918.3,358.2 C917.9,359.5 919.0,364.6 918.3,366.5 C917.6,368.4 912.6,375.6 911.7,377.4 C910.8,379.2 910.5,384.0 909.3,384.5 C908.1,385.0 901.2,381.2 899.8,382.2 C898.4,383.1 895.9,391.6 895.1,394.0 C894.3,396.4 892.4,403.4 891.4,406.0 C890.4,408.6 887.3,416.6 885.6,420.0 C883.9,423.4 875.5,437.4 874.2,440.0 C872.9,442.6 872.7,443.1 872.3,445.5 C871.9,447.9 870.7,460.4 870.5,463.9 C870.3,467.4 871.0,477.7 870.5,480.5 C870.0,483.3 865.4,489.4 865.0,491.6 C864.6,493.8 866.2,500.8 866.8,502.6 C867.4,504.4 871.0,508.3 871.4,510.0 C871.8,511.7 871.1,517.7 870.5,519.2 C869.9,520.7 866.7,523.8 865.0,524.7 C863.3,525.6 856.1,528.3 853.9,528.4 C851.7,528.5 844.9,526.5 842.9,525.6 C840.9,524.7 836.1,520.0 833.7,519.2 C831.3,518.4 821.7,517.8 818.9,517.3 C816.1,516.8 808.2,515.0 806.0,513.7 C803.8,512.4 798.6,506.0 796.8,504.5 C795.0,503.0 789.6,499.5 787.6,498.9 C785.6,498.3 778.6,498.2 776.6,498.9 C774.6,499.6 769.1,504.8 767.4,506.3 C765.7,507.8 762.2,511.5 760.0,513.7 C757.8,515.9 748.3,525.7 745.3,528.4 C742.2,531.1 732.7,538.9 729.5,541.1 C726.3,543.3 716.9,548.5 713.7,550.5 C710.5,552.5 701.4,559.9 697.9,561.6 C694.4,563.3 683.0,566.9 679.0,567.9 C675.0,568.9 661.3,571.7 657.9,571.1 C654.5,570.5 648.1,563.0 645.3,561.6 C642.5,560.2 633.0,556.7 630.0,557.1 C627.0,557.5 617.7,564.2 615.0,565.3 C612.3,566.3 605.6,567.8 603.3,567.6 C600.9,567.4 594.1,563.9 591.5,563.0 C588.9,562.1 580.8,559.2 577.5,558.3 C574.2,557.4 561.8,553.8 558.7,553.6 C555.7,553.4 548.9,556.0 547.0,555.9 C545.1,555.8 541.4,553.6 540.0,552.4 C538.6,551.2 534.4,545.7 533.0,544.2 C531.6,542.7 528.0,538.0 525.9,537.2 C523.8,536.4 514.9,536.3 511.9,536.0 C508.9,535.7 498.8,534.5 495.5,534.4 C492.2,534.3 481.8,535.5 479.0,535.3 C476.2,535.1 470.3,533.3 467.3,532.5 C464.3,531.7 451.2,527.6 448.6,527.3 C446.0,526.9 443.4,529.1 441.6,529.0 C439.8,528.9 433.2,527.7 431.0,526.6 C428.8,525.5 421.5,519.0 419.3,518.4 C417.1,517.8 410.6,520.6 408.7,520.8 C406.8,521.0 401.0,521.5 400.5,520.8 C400.0,520.1 403.2,515.8 404.1,513.7 C405.0,511.6 409.4,502.3 409.9,499.7 C410.4,497.1 409.5,490.1 408.7,488.0 C407.9,485.9 402.4,480.0 402.2,478.6Z" fill="#2f6ebd" stroke="#2f6ebd" stroke-width="0.8" stroke-linejoin="round"/>
<path d="M579.6,387.5 L588.6,395.5 L588.6,412.9 L581.3,424.8 L569.5,428.8Z" fill="#fdfdfd"/>
<path d="M632.6,308.4 C632.9,309.2 633.2,317.5 635.8,317.9 C638.4,318.3 660.8,313.9 664.2,313.2 C667.6,312.5 675.6,309.7 676.9,310.0 C678.2,310.3 679.0,315.1 680.0,316.3 C681.0,317.5 688.2,323.3 689.5,324.2 C690.8,325.1 695.9,325.6 695.8,327.4 C695.7,329.2 688.9,343.7 687.9,346.3 C686.9,348.9 682.8,356.9 683.2,359.0 C683.6,361.1 691.3,370.0 692.6,371.6 C693.9,373.2 697.7,377.1 699.0,377.9 C700.3,378.7 706.9,381.0 708.5,381.1 C710.1,381.2 716.0,379.7 717.9,379.5 C719.8,379.3 730.6,379.0 731.8,379.0" fill="none" stroke="#cfe0f5" stroke-width="1.3" stroke-linejoin="round"/>
<path d="M731.8,379.0 C732.5,378.7 738.9,375.0 740.5,375.0 C742.1,375.0 750.0,378.5 751.6,379.0 C753.2,379.5 758.0,381.6 759.5,381.3 C761.0,381.0 767.7,376.6 769.0,375.8 C770.3,375.0 774.8,372.1 775.3,371.8" fill="none" stroke="#cfe0f5" stroke-width="1.3" stroke-linejoin="round"/>
<path d="M775.3,371.8 C776.0,371.5 781.2,368.4 783.2,367.9 C785.2,367.4 796.4,366.4 799.0,366.3 C801.6,366.2 813.1,367.3 814.8,367.1 C816.5,366.9 819.1,364.3 819.5,364.0" fill="none" stroke="#cfe0f5" stroke-width="1.3" stroke-linejoin="round"/>
<path d="M775.3,371.8 C775.7,372.5 779.0,378.9 780.0,380.5 C781.0,382.1 786.3,391.2 787.9,391.6 C789.5,392.0 796.9,386.4 799.0,385.3 C801.1,384.2 811.4,378.1 813.2,378.2 C815.0,378.3 820.3,386.1 821.1,386.9 C821.9,387.7 823.0,387.4 823.2,387.5" fill="none" stroke="#cfe0f5" stroke-width="1.3" stroke-linejoin="round"/>
<path d="M731.8,379.0 C732.0,380.1 733.6,389.5 734.2,391.6 C734.8,393.7 738.4,401.8 739.0,404.2 C739.6,406.6 742.5,417.9 741.3,420.0 C740.1,422.1 726.1,428.4 724.7,429.5 C723.3,430.6 723.6,432.4 724.0,432.7 C724.4,433.0 728.0,433.9 729.5,433.5 C731.0,433.1 741.4,427.4 742.1,427.9 C742.8,428.4 737.9,437.0 737.4,439.0 C736.9,441.0 736.0,449.8 735.8,451.6 C735.6,453.4 735.1,459.6 735.0,460.3" fill="none" stroke="#cfe0f5" stroke-width="1.3" stroke-linejoin="round"/>
<path d="M741.3,420.0 C742.2,419.7 749.4,417.9 751.6,416.9 C753.8,415.8 765.7,408.3 767.4,407.4 C769.1,406.5 771.3,405.1 772.1,405.8 C772.9,406.5 775.6,414.3 776.9,415.3 C778.2,416.3 786.1,417.2 787.9,417.7 C789.7,418.2 798.1,420.5 799.0,420.8" fill="none" stroke="#cfe0f5" stroke-width="1.3" stroke-linejoin="round"/>
<path d="M799.0,420.8 C799.1,419.9 800.1,412.0 800.6,410.6 C801.1,409.2 804.1,405.1 805.3,404.2 C806.5,403.3 813.5,400.4 814.8,399.5 C816.1,398.6 819.9,393.9 821.1,393.2 C822.3,392.5 828.0,390.9 829.0,390.8 C830.0,390.7 833.4,392.2 833.7,391.6 C834.0,391.0 833.1,384.4 833.0,383.7" fill="none" stroke="#cfe0f5" stroke-width="1.3" stroke-linejoin="round"/>
<path d="M735.0,460.3 C736.1,461.0 745.7,467.9 748.4,469.0 C751.1,470.1 764.5,473.4 767.4,473.0 C770.3,472.6 781.4,465.8 783.2,464.3 C785.0,462.8 788.3,456.3 789.5,454.8 C790.7,453.3 795.8,447.9 797.4,446.1 C799.0,444.3 808.4,434.8 808.5,432.7 C808.6,430.6 799.8,421.8 799.0,420.8" fill="none" stroke="#cfe0f5" stroke-width="1.3" stroke-linejoin="round"/>
<path d="M642.2,471.6 C643.7,471.6 655.9,471.9 660.0,471.6 C664.1,471.3 686.6,468.8 691.6,468.4 C696.6,468.0 716.4,468.1 720.0,467.4 C723.6,466.7 733.8,460.9 735.0,460.3" fill="none" stroke="#cfe0f5" stroke-width="1.3" stroke-linejoin="round"/>
<path d="M767.4,473.0 C767.7,474.2 770.7,485.1 770.6,487.4 C770.5,489.6 765.8,498.5 765.8,500.0 C765.8,501.5 769.6,504.6 770.0,505.0" fill="none" stroke="#cfe0f5" stroke-width="1.3" stroke-linejoin="round"/>
<path d="M797.4,446.1 C798.3,446.7 807.0,452.8 808.5,453.2 C810.0,453.6 813.5,450.5 814.8,450.8 C816.1,451.1 824.0,455.3 824.3,456.4 C824.6,457.5 818.7,462.0 817.9,464.3 C817.1,466.6 814.8,481.5 814.8,484.2 C814.8,486.9 818.4,495.2 817.9,496.9 C817.4,498.6 807.4,503.5 808.5,504.8 C809.6,506.1 828.5,511.5 830.6,512.7 C832.7,513.9 833.7,518.5 834.0,519.0" fill="none" stroke="#cfe0f5" stroke-width="1.3" stroke-linejoin="round"/>
<path d="M808.5,432.7 C810.1,432.3 824.8,428.8 827.4,427.9 C830.0,427.0 838.0,422.1 840.0,421.6 C842.0,421.1 849.6,422.7 851.1,422.4 C852.6,422.1 856.1,418.7 857.4,418.5 C858.7,418.3 865.4,419.0 866.9,420.0 C868.4,421.0 874.1,429.6 874.8,430.5" fill="none" stroke="#cfe0f5" stroke-width="1.3" stroke-linejoin="round"/>
<path d="M839.2,389.9 C839.1,390.2 837.8,392.0 838.3,393.0 C838.8,394.0 843.6,400.0 845.0,401.5 C846.4,403.0 853.2,409.5 855.0,411.0 C856.8,412.5 865.9,419.2 866.9,420.0" fill="none" stroke="#cfe0f5" stroke-width="1.3" stroke-linejoin="round"/>
<path d="M806.9,274.5 C807.0,276.3 807.8,292.7 807.7,295.8 C807.6,298.9 805.6,309.6 805.3,311.6 C805.0,313.6 804.1,318.5 803.7,320.0 C803.3,321.5 800.5,327.9 800.1,329.5 C799.8,331.1 799.4,337.5 799.5,339.0 C799.6,340.5 801.1,346.5 801.9,347.3 C802.7,348.1 808.3,348.5 809.6,349.0 C810.9,349.5 817.1,352.8 817.9,353.2 C818.7,353.6 819.0,354.3 819.1,354.4" fill="none" stroke="#cfe0f5" stroke-width="1.3" stroke-linejoin="round"/>
<path d="M801.9,347.3 C801.7,347.5 799.6,348.7 799.0,349.5 C798.4,350.3 794.9,356.4 794.2,357.4 C793.5,358.4 791.4,361.4 791.0,361.4 C790.6,361.4 790.5,358.0 789.5,357.4 C788.5,356.8 779.7,353.8 778.5,354.2 C777.3,354.6 775.6,360.6 775.3,362.1 C775.0,363.6 775.3,371.0 775.3,371.8" fill="none" stroke="#cfe0f5" stroke-width="1.3" stroke-linejoin="round"/>
<path d="M833.7,272.0 C833.6,274.3 832.2,296.0 832.1,300.0 C832.0,304.0 832.2,317.4 832.1,320.0 C832.0,322.6 831.2,329.9 831.0,331.8 C830.8,333.7 830.1,341.6 829.2,342.5 C828.3,343.4 821.1,342.1 820.3,343.1 C819.5,344.1 819.3,352.8 819.1,354.4 C818.9,356.0 818.0,361.9 818.0,362.7 C818.0,363.5 819.4,363.9 819.5,364.0" fill="none" stroke="#cfe0f5" stroke-width="1.3" stroke-linejoin="round"/>
<path d="M819.1,355.0 C821.0,355.4 840.3,359.3 842.2,359.7" fill="none" stroke="#cfe0f5" stroke-width="1.3" stroke-linejoin="round"/>
<path d="M819.5,364.0 C821.5,364.4 842.0,368.2 844.0,368.6" fill="none" stroke="#cfe0f5" stroke-width="1.3" stroke-linejoin="round"/>
<path d="M841.6,352.6 C841.6,353.2 841.6,358.6 841.6,359.7 C841.6,360.8 841.0,365.5 841.0,366.0" fill="none" stroke="#cfe0f5" stroke-width="1.3" stroke-linejoin="round"/>
<path d="M833.3,330.7 C833.8,330.5 838.4,327.9 839.2,328.3 C840.0,328.7 842.1,334.2 842.8,335.4 C843.5,336.6 846.8,341.1 847.5,342.5 C848.2,343.9 850.6,350.6 851.1,352.0 C851.6,353.4 853.0,358.2 853.5,359.1 C854.0,360.0 856.7,362.4 857.0,362.7" fill="none" stroke="#cfe0f5" stroke-width="1.3" stroke-linejoin="round"/>
<path d="M833.3,330.7 C833.7,331.3 837.9,336.7 838.1,337.8 C838.3,338.9 835.9,342.8 835.7,343.7 C835.5,344.6 835.2,347.7 835.7,348.4 C836.2,349.1 840.3,352.1 841.6,352.6 C842.9,353.1 850.3,354.2 851.1,354.4" fill="none" stroke="#cfe0f5" stroke-width="1.3" stroke-linejoin="round"/>
<path d="M851.0,274.5 C850.6,275.6 847.0,285.5 846.4,287.9 C845.8,290.3 843.6,301.0 843.2,303.7 C842.8,306.4 841.9,317.9 841.6,320.0 C841.3,322.1 839.9,327.6 839.8,328.3" fill="none" stroke="#cfe0f5" stroke-width="1.3" stroke-linejoin="round"/>
<path d="M899.8,290.0 C899.7,291.6 899.2,306.1 898.6,308.7 C898.0,311.2 893.9,319.2 892.7,320.6 C891.5,322.0 885.5,324.6 884.3,325.9 C883.1,327.2 879.4,334.7 878.3,336.6 C877.2,338.5 872.3,346.7 871.2,348.4 C870.1,350.1 866.4,355.6 865.3,356.7 C864.2,357.8 859.2,361.9 858.2,362.1 C857.2,362.3 853.9,359.4 853.5,359.1" fill="none" stroke="#cfe0f5" stroke-width="1.3" stroke-linejoin="round"/>
<path d="M872.4,348.4 C872.0,349.3 868.3,357.6 867.7,359.1 C867.1,360.6 864.8,365.0 864.7,366.2 C864.6,367.4 866.2,372.0 866.5,373.3 C866.8,374.6 868.5,380.5 867.7,381.6 C866.9,382.7 858.8,385.8 857.0,386.4 C855.2,387.0 847.9,389.0 846.4,389.3 C844.9,389.6 839.8,389.8 839.2,389.9" fill="none" stroke="#cfe0f5" stroke-width="1.3" stroke-linejoin="round"/>
<path d="M866.5,375.7 C867.5,375.8 876.6,375.6 878.3,376.3 C880.0,377.0 885.1,383.0 886.6,384.0 C888.1,385.0 895.0,388.8 896.1,388.7 C897.2,388.6 899.5,382.7 899.8,382.2" fill="none" stroke="#cfe0f5" stroke-width="1.3" stroke-linejoin="round"/>
<path d="M826.8,365.6 C826.5,367.4 823.5,385.7 823.2,387.5" fill="none" stroke="#cfe0f5" stroke-width="1.3" stroke-linejoin="round"/>
<path d="M833.9,366.8 C833.8,368.2 832.2,382.6 832.1,384.0" fill="none" stroke="#cfe0f5" stroke-width="1.3" stroke-linejoin="round"/>
<path d="M844.6,369.2 C844.5,369.8 843.2,376.1 842.8,376.9 C842.4,377.7 840.1,378.1 839.8,379.2 C839.5,380.3 839.2,389.0 839.2,389.9" fill="none" stroke="#cfe0f5" stroke-width="1.3" stroke-linejoin="round"/>
<path d="M823.2,387.5 C823.8,387.4 829.1,386.7 829.8,386.4 C830.5,386.1 831.9,383.6 832.1,384.0 C832.3,384.4 832.7,390.5 832.7,391.1" fill="none" stroke="#cfe0f5" stroke-width="1.3" stroke-linejoin="round"/>
<path d="M499.0,443.4 C500.1,443.7 509.7,446.5 511.9,447.0 C514.1,447.5 523.4,449.4 525.9,449.3 C528.4,449.2 539.6,446.1 542.3,445.8 C545.0,445.5 556.2,446.2 558.7,445.8 C561.2,445.4 570.4,441.7 572.8,441.1 C575.1,440.6 585.7,439.4 586.9,439.2" fill="none" stroke="#cfe0f5" stroke-width="1.3" stroke-linejoin="round"/>
<path d="M586.9,439.2 C587.7,440.1 594.4,448.8 596.2,450.5 C598.0,452.2 605.6,458.6 608.0,459.8 C610.4,461.0 622.3,463.9 624.4,464.5 C626.5,465.1 631.2,466.3 632.7,466.9 C634.2,467.5 641.4,471.2 642.2,471.6" fill="none" stroke="#cfe0f5" stroke-width="1.3" stroke-linejoin="round"/>
<path d="M642.2,471.6 C642.7,472.9 647.5,484.9 648.5,487.4 C649.5,489.9 652.4,500.0 654.8,501.6 C657.2,503.2 673.0,505.1 676.9,506.3 C680.8,507.5 697.9,514.0 701.0,515.8 C704.1,517.6 712.4,525.6 713.7,528.4 C715.0,531.2 716.6,547.3 716.9,549.0" fill="none" stroke="#cfe0f5" stroke-width="1.3" stroke-linejoin="round"/>
<path d="M716.6,382.3 L704.8,402.2 L679.0,410.4 L693.1,425.6 L675.5,430.3 L672.0,423.3 L648.6,417.4 L625.2,418.6 L613.4,437.3 L599.4,450.2" fill="none" stroke="#8fb4e3" stroke-width="0.9" stroke-linejoin="round"/>
<line x1="760.5" y1="248.6" x2="816" y2="292.6" stroke="#262b36" stroke-width="1.15"/>
<line x1="879.3" y1="247" x2="841.8" y2="282.8" stroke="#262b36" stroke-width="1.15"/>
<line x1="598.5" y1="294.2" x2="792" y2="357.2" stroke="#262b36" stroke-width="1.15"/>
<line x1="921.1" y1="310.4" x2="846.7" y2="349.9" stroke="#262b36" stroke-width="1.15"/>
<line x1="900.8" y1="369.8" x2="845.4" y2="364.8" stroke="#262b36" stroke-width="1.15"/>
<line x1="920.2" y1="395.2" x2="829.7" y2="364.8" stroke="#262b36" stroke-width="1.15"/>
<line x1="905.6" y1="413.6" x2="851.7" y2="382.4" stroke="#262b36" stroke-width="1.15"/>
<line x1="908.8" y1="437.3" x2="859.2" y2="396.2" stroke="#262b36" stroke-width="1.15"/>
<line x1="915" y1="470" x2="839.1" y2="382.4" stroke="#262b36" stroke-width="1.15"/>
<line x1="911.3" y1="492.2" x2="831.6" y2="406.3" stroke="#262b36" stroke-width="1.15"/>
<line x1="822.2" y1="546.4" x2="814.1" y2="377.4" stroke="#262b36" stroke-width="1.15"/>
<text x="717.51" y="245.80" font-size="14.7" textLength="70.39" lengthAdjust="spacingAndGlyphs" fill="#141414" stroke="#141414" stroke-width="0.25">La Pastora</text>
<text x="861.17" y="239.90" font-size="14.7" textLength="66.13" lengthAdjust="spacingAndGlyphs" fill="#141414" stroke="#141414" stroke-width="0.25">Altagracia</text>
<text x="551.03" y="283.90" font-size="14.7" textLength="38.35" lengthAdjust="spacingAndGlyphs" fill="#141414" stroke="#141414" stroke-width="0.25">23 de</text>
<text x="550.57" y="305.60" font-size="14.7" textLength="39.85" lengthAdjust="spacingAndGlyphs" fill="#141414" stroke="#141414" stroke-width="0.25">Enero</text>
<text x="933.46" y="316.10" font-size="14.7" textLength="58.36" lengthAdjust="spacingAndGlyphs" fill="#141414" stroke="#141414" stroke-width="0.25">San José</text>
<text x="917.70" y="377.30" font-size="14.7" textLength="91.30" lengthAdjust="spacingAndGlyphs" fill="#141414" stroke="#141414" stroke-width="0.25">La Candelaria</text>
<text x="931.91" y="401.30" font-size="14.7" textLength="58.63" lengthAdjust="spacingAndGlyphs" fill="#141414" stroke="#141414" stroke-width="0.25">Catedral</text>
<text x="919.12" y="419.60" font-size="14.7" textLength="80.24" lengthAdjust="spacingAndGlyphs" fill="#141414" stroke="#141414" stroke-width="0.25">San Agustín</text>
<text x="921.93" y="449.20" font-size="14.7" textLength="69.49" lengthAdjust="spacingAndGlyphs" fill="#141414" stroke="#141414" stroke-width="0.25">San Pedro</text>
<text x="918.14" y="476.10" font-size="14.7" textLength="85.36" lengthAdjust="spacingAndGlyphs" fill="#141414" stroke="#141414" stroke-width="0.25">Santa Teresa</text>
<text x="916.25" y="502.20" font-size="14.7" textLength="90.15" lengthAdjust="spacingAndGlyphs" fill="#141414" stroke="#141414" stroke-width="0.25">Santa Rosalía</text>
<text x="796.76" y="564.30" font-size="14.7" textLength="59.97" lengthAdjust="spacingAndGlyphs" fill="#141414" stroke="#141414" stroke-width="0.25">San Juan</text>
<text x="726.71" y="329.50" font-size="13.5" textLength="33.86" lengthAdjust="spacingAndGlyphs" fill="#e8f0fb" stroke="#e8f0fb" stroke-width="0.25">Sucre</text>
<text x="859.14" y="300.40" font-size="13.3" textLength="22.07" lengthAdjust="spacingAndGlyphs" fill="#e8f0fb" stroke="#e8f0fb" stroke-width="0.25">San</text>
<text x="844.03" y="314.40" font-size="9.3" textLength="51.61" lengthAdjust="spacingAndGlyphs" fill="#e8f0fb" stroke="#e8f0fb" stroke-width="0.25">Bernardino</text>
<text x="891.91" y="344.20" font-size="13.5" textLength="10.69" lengthAdjust="spacingAndGlyphs" fill="#e8f0fb" stroke="#e8f0fb" stroke-width="0.25">El</text>
<text x="876.45" y="360.60" font-size="13.5" textLength="41.29" lengthAdjust="spacingAndGlyphs" fill="#e8f0fb" stroke="#e8f0fb" stroke-width="0.25">Recreo</text>
<text x="605.28" y="387.00" font-size="13.5" textLength="67.29" lengthAdjust="spacingAndGlyphs" fill="#e8f0fb" stroke="#e8f0fb" stroke-width="0.25">El Junquito</text>
<text x="744.76" y="402.20" font-size="13.5" textLength="58.37" lengthAdjust="spacingAndGlyphs" fill="#e8f0fb" stroke="#e8f0fb" stroke-width="0.25">El Paraíso</text>
<text x="649.27" y="453.70" font-size="13.5" textLength="59.21" lengthAdjust="spacingAndGlyphs" fill="#e8f0fb" stroke="#e8f0fb" stroke-width="0.25">Antímano</text>
<text x="745.27" y="444.80" font-size="13.5" textLength="46.23" lengthAdjust="spacingAndGlyphs" fill="#e8f0fb" stroke="#e8f0fb" stroke-width="0.25">La Vega</text>
<text x="776.84" y="486.00" font-size="13.5" textLength="37.33" lengthAdjust="spacingAndGlyphs" fill="#e8f0fb" stroke="#e8f0fb" stroke-width="0.25">Coche</text>
<text x="822.39" y="481.40" font-size="13.5" textLength="45.02" lengthAdjust="spacingAndGlyphs" fill="#e8f0fb" stroke="#e8f0fb" stroke-width="0.25">El Valle</text>
<text x="693.13" y="498.30" font-size="13.5" textLength="52.82" lengthAdjust="spacingAndGlyphs" fill="#e8f0fb" stroke="#e8f0fb" stroke-width="0.25">Caricuao</text>
<text x="530.14" y="507.00" font-size="13.5" textLength="54.95" lengthAdjust="spacingAndGlyphs" fill="#e8f0fb" stroke="#e8f0fb" stroke-width="0.25">Macarao</text>
<g clip-path="url(#cpage)">
<rect x="395" y="632.5" width="236" height="116" rx="40" fill="#b5b5b5" filter="url(#sh)"/>
<rect x="394" y="630" width="236" height="116" rx="40" fill="url(#gpill)"/>
<rect x="690" y="662" width="340" height="63" fill="#b0b0b0" filter="url(#sh)"/>
<rect x="690" y="660.4" width="340" height="61.7" fill="#f0f0f0"/>
<circle cx="683" cy="693" r="37.5" fill="#b0b0b0" filter="url(#sh)"/>
<circle cx="682.3" cy="691.5" r="37.6" fill="#f3f3f3"/>
<circle cx="682.3" cy="691.5" r="36" fill="url(#gcirc)"/>
</g>
<text x="458.62" y="669.40" font-size="29.2" textLength="34.52" lengthAdjust="spacingAndGlyphs" fill="#2e6db4" font-weight="bold">22</text>
<text x="501.54" y="669.40" font-size="21" textLength="25.48" lengthAdjust="spacingAndGlyphs" fill="#2e6db4" stroke="#2e6db4" stroke-width="0.35">de</text>
<text x="532.65" y="669.40" font-size="29.2" textLength="35.22" lengthAdjust="spacingAndGlyphs" fill="#2e6db4" font-weight="bold">22</text>
<text x="458.94" y="703.10" font-size="21.8" textLength="109.37" lengthAdjust="spacingAndGlyphs" fill="#3573ba" stroke="#3573ba" stroke-width="0.4">Parroquias</text>
<text x="464.04" y="732.50" font-size="21.8" textLength="98.03" lengthAdjust="spacingAndGlyphs" fill="#3573ba" stroke="#3573ba" stroke-width="0.4">afectadas</text>
<text x="670.26" y="702.30" font-size="34.4" textLength="21.74" lengthAdjust="spacingAndGlyphs" fill="#2e6db4" font-weight="bold">8</text>
<text x="727.64" y="687.70" font-size="21.2" textLength="287.98" lengthAdjust="spacingAndGlyphs" fill="#161616" stroke="#161616" stroke-width="0.3">Residentes de otros estados</text>
<text x="728.56" y="716.80" font-size="21.2" textLength="208.43" lengthAdjust="spacingAndGlyphs" fill="#161616" stroke="#161616" stroke-width="0.3">captados en Caracas</text>
<rect x="0" y="0" width="1024" height="5.5" fill="#1c1c1c"/><rect x="0" y="0" width="5" height="760" fill="#1c1c1c"/><rect x="1018.6" y="0" width="5.4" height="760" fill="#1c1c1c"/>
</svg></body></html>
